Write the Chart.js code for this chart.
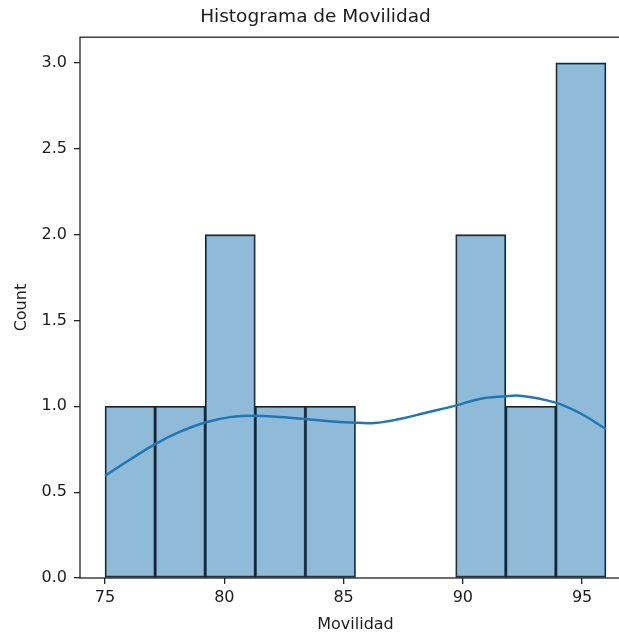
<!DOCTYPE html>
<html>
<head>
<meta charset="utf-8">
<script src="https://cdn.jsdelivr.net/npm/chart.js@4"></script>
<style>
  html, body { margin: 0; padding: 0; background: #fff; overflow: hidden; }
  #wrap { width: 650px; height: 636px; }
</style>
</head>
<body>
<div id="wrap"><canvas id="hist" width="650" height="636"></canvas></div>
<script>
// histogram bins (Movilidad) and counts
const binEdges = [75, 77.1, 79.2, 81.3, 83.4, 85.5, 87.6, 89.7, 91.8, 93.9, 96];
const counts = [1, 1, 2, 1, 1, 0, 0, 2, 1, 3];

// KDE curve
const kdeX = [75, 76.05, 77.1, 78.15, 79.2, 80.25, 81.3, 82.3, 83.4, 84.4, 85.3, 86.3, 87.35, 88.4, 89.7, 90.7, 91.75, 92.4, 93.85, 94.9, 96];
const kdeY = [0.595, 0.69, 0.78, 0.852, 0.906, 0.937, 0.945, 0.938, 0.926, 0.913, 0.906, 0.903, 0.926, 0.961, 1.004, 1.043, 1.058, 1.062, 1.023, 0.961, 0.868];

const xTicks = [75, 80, 85, 90, 95];
const yTicks = [0, 0.5, 1.0, 1.5, 2.0, 2.5, 3.0];

const FONT = 'DejaVu Sans';
const INK = '#1c1c1c';

const barData = counts.map((c, i) => ({ x: (binEdges[i] + binEdges[i + 1]) / 2, y: c }));
const kdeData = kdeX.map((x, i) => ({ x, y: kdeY[i] }));

// draws the full axes box like matplotlib spines
const frame = {
  id: 'frame',
  afterDatasetsDraw(chart) {
    const { ctx, chartArea: a } = chart;
    ctx.save();
    ctx.strokeStyle = '#222';
    ctx.lineWidth = 1.3;
    ctx.strokeRect(a.left, a.top, a.right - a.left, a.bottom - a.top);
    ctx.restore();
  }
};

new Chart(document.getElementById('hist').getContext('2d'), {
  data: {
    datasets: [
      {
        type: 'line',
        data: kdeData,
        borderColor: '#1f77b4',
        borderWidth: 2.5,
        pointRadius: 0,
        tension: 0.4,
        order: 0
      },
      {
        type: 'bar',
        data: barData,
        backgroundColor: 'rgba(31, 119, 180, 0.5)',
        borderColor: '#1e1e1e',
        borderWidth: (c) => (c.raw && c.raw.y > 0 ? 1.2 : 0),
        borderSkipped: false,
        barPercentage: 1,
        categoryPercentage: 1,
        order: 1
      }
    ]
  },
  options: {
    responsive: false,
    animation: false,
    layout: { padding: { left: 0, right: 19, top: 0, bottom: 0 } },
    plugins: {
      legend: { display: false },
      tooltip: { enabled: false },
      title: {
        display: true,
        text: 'Histograma de Movilidad',
        color: INK,
        font: { family: FONT, size: 18.5, weight: 'normal' },
        padding: { top: 6, bottom: 9 }
      }
    },
    scales: {
      x: {
        type: 'linear',
        offset: false,
        min: 73.95,
        max: 97.05,
        afterFit: (s) => { s.height = 58; },
        afterBuildTicks: (s) => { s.ticks = xTicks.map(v => ({ value: v })); },
        border: { display: false },
        grid: { offset: false, drawOnChartArea: false, drawTicks: true, tickLength: 6, tickColor: '#222', lineWidth: 1.3 },
        ticks: {
          color: INK,
          padding: 4,
          maxRotation: 0,
          font: { family: FONT, size: 16 },
          callback: (v) => String(v)
        },
        title: {
          display: true,
          text: 'Movilidad',
          color: INK,
          font: { family: FONT, size: 16 },
          padding: { top: 0, bottom: 1.5 }
        }
      },
      y: {
        type: 'linear',
        min: 0,
        max: 3.15,
        afterFit: (s) => { s.width = 80; },
        afterBuildTicks: (s) => { s.ticks = yTicks.map(v => ({ value: v })); },
        border: { display: false },
        grid: { drawOnChartArea: false, drawTicks: true, tickLength: 6, tickColor: '#222', lineWidth: 1.3 },
        ticks: {
          color: INK,
          padding: 7,
          font: { family: FONT, size: 16 },
          callback: (v) => Number(v).toFixed(1)
        },
        title: {
          display: true,
          text: 'Count',
          color: INK,
          font: { family: FONT, size: 16 },
          padding: { top: 12.5, bottom: 0 }
        }
      }
    }
  },
  plugins: [frame]
});
</script>
</body>
</html>
